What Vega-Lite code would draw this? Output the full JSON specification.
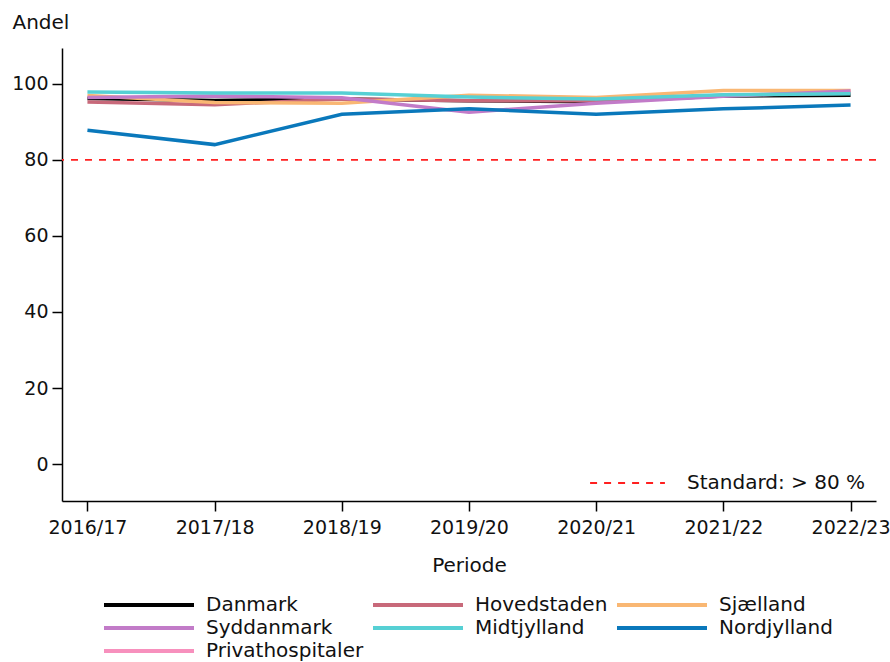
{
  "$schema": "https://vega.github.io/schema/vega-lite/v6.json",
  "width": 814,
  "height": 453,
  "autosize": {"type": "none"},
  "padding": {"left": 62, "top": 48, "right": 14, "bottom": 161},
  "config": {
    "font": "DejaVu Sans",
    "view": {"stroke": null},
    "axis": {"grid": false, "domainColor": "#000", "tickColor": "#000", "domainWidth": 1.5, "tickWidth": 1.5, "tickSize": 10, "labelFontSize": 19, "labelColor": "#111", "titleFontSize": 20, "titleFontWeight": "normal", "titleColor": "#111", "labelPadding": 4}
  },
  "layer": [
    {
      "data": {"values": [{"y": 80, "label": "Standard: > 80 %"}]},
      "mark": {"type": "rule", "color": "#ff2020", "strokeWidth": 1.8},
      "encoding": {
        "y": {"field": "y", "type": "quantitative"},
        "strokeDash": {"field": "label", "type": "nominal", "scale": {"range": [[7, 7]]},
          "legend": {"title": null, "orient": "none", "legendX": 527, "legendY": 425, "symbolType": "stroke", "symbolSize": 5600, "clipHeight": 20, "symbolStrokeColor": "#ff2020", "symbolStrokeWidth": 1.8, "labelFontSize": 20, "labelLimit": 400, "labelColor": "#111", "labelOffset": 21}}
      }
    },
    {
      "data": {"values": [
        {"periode": "2016/17", "region": "Danmark", "andel": 96.1},
        {"periode": "2017/18", "region": "Danmark", "andel": 95.6},
        {"periode": "2018/19", "region": "Danmark", "andel": 96.0},
        {"periode": "2019/20", "region": "Danmark", "andel": 95.5},
        {"periode": "2020/21", "region": "Danmark", "andel": 95.3},
        {"periode": "2021/22", "region": "Danmark", "andel": 96.8},
        {"periode": "2022/23", "region": "Danmark", "andel": 97.0},
        {"periode": "2016/17", "region": "Hovedstaden", "andel": 95.2},
        {"periode": "2017/18", "region": "Hovedstaden", "andel": 94.5},
        {"periode": "2018/19", "region": "Hovedstaden", "andel": 96.0},
        {"periode": "2019/20", "region": "Hovedstaden", "andel": 95.5},
        {"periode": "2020/21", "region": "Hovedstaden", "andel": 95.5},
        {"periode": "2021/22", "region": "Hovedstaden", "andel": 97.0},
        {"periode": "2022/23", "region": "Hovedstaden", "andel": 97.5},
        {"periode": "2016/17", "region": "Sjælland", "andel": 96.9},
        {"periode": "2017/18", "region": "Sjælland", "andel": 95.1},
        {"periode": "2018/19", "region": "Sjælland", "andel": 94.9},
        {"periode": "2019/20", "region": "Sjælland", "andel": 97.0},
        {"periode": "2020/21", "region": "Sjælland", "andel": 96.4},
        {"periode": "2021/22", "region": "Sjælland", "andel": 98.2},
        {"periode": "2022/23", "region": "Sjælland", "andel": 98.2},
        {"periode": "2016/17", "region": "Syddanmark", "andel": 96.4},
        {"periode": "2017/18", "region": "Syddanmark", "andel": 96.8},
        {"periode": "2018/19", "region": "Syddanmark", "andel": 96.3},
        {"periode": "2019/20", "region": "Syddanmark", "andel": 92.5},
        {"periode": "2020/21", "region": "Syddanmark", "andel": 94.9},
        {"periode": "2021/22", "region": "Syddanmark", "andel": 96.7},
        {"periode": "2022/23", "region": "Syddanmark", "andel": 98.1},
        {"periode": "2016/17", "region": "Midtjylland", "andel": 97.8},
        {"periode": "2017/18", "region": "Midtjylland", "andel": 97.6},
        {"periode": "2018/19", "region": "Midtjylland", "andel": 97.6},
        {"periode": "2019/20", "region": "Midtjylland", "andel": 96.5},
        {"periode": "2020/21", "region": "Midtjylland", "andel": 96.0},
        {"periode": "2021/22", "region": "Midtjylland", "andel": 97.1},
        {"periode": "2022/23", "region": "Midtjylland", "andel": 97.4},
        {"periode": "2016/17", "region": "Nordjylland", "andel": 87.8},
        {"periode": "2017/18", "region": "Nordjylland", "andel": 84.0},
        {"periode": "2018/19", "region": "Nordjylland", "andel": 92.0},
        {"periode": "2019/20", "region": "Nordjylland", "andel": 93.4},
        {"periode": "2020/21", "region": "Nordjylland", "andel": 92.0},
        {"periode": "2021/22", "region": "Nordjylland", "andel": 93.4},
        {"periode": "2022/23", "region": "Nordjylland", "andel": 94.4}
      ]},
      "mark": {"type": "line", "strokeWidth": 3.5},
      "encoding": {
        "x": {"field": "periode", "type": "ordinal", "scale": {"type": "point", "padding": 0.2}, "axis": {"title": "Periode", "labelAngle": 0, "labelPadding": 7, "titlePadding": 18}},
        "y": {"field": "andel", "type": "quantitative", "scale": {"domain": [-9.7, 109.4], "nice": false, "zero": false}, "axis": {"title": "Andel", "values": [0, 20, 40, 60, 80, 100], "titleAngle": 0, "titleAlign": "left", "titleBaseline": "alphabetic", "titleX": -50, "titleY": -20}},
        "color": {"field": "region", "type": "nominal",
          "scale": {"domain": ["Danmark", "Hovedstaden", "Sjælland", "Syddanmark", "Midtjylland", "Nordjylland", "Privathospitaler"],
                    "range": ["#000000", "#c8697a", "#f9b773", "#c27bc8", "#56d0d4", "#0a78bb", "#f790bd"]},
          "legend": {"title": null, "orient": "none", "legendX": 40, "legendY": 547, "direction": "horizontal", "columns": 3, "symbolType": "stroke", "symbolSize": 8100, "clipHeight": 20, "symbolStrokeWidth": 4, "labelFontSize": 20, "labelLimit": 400, "labelColor": "#111", "labelOffset": 10, "columnPadding": 7, "rowPadding": 3}}
      }
    }
  ]
}
